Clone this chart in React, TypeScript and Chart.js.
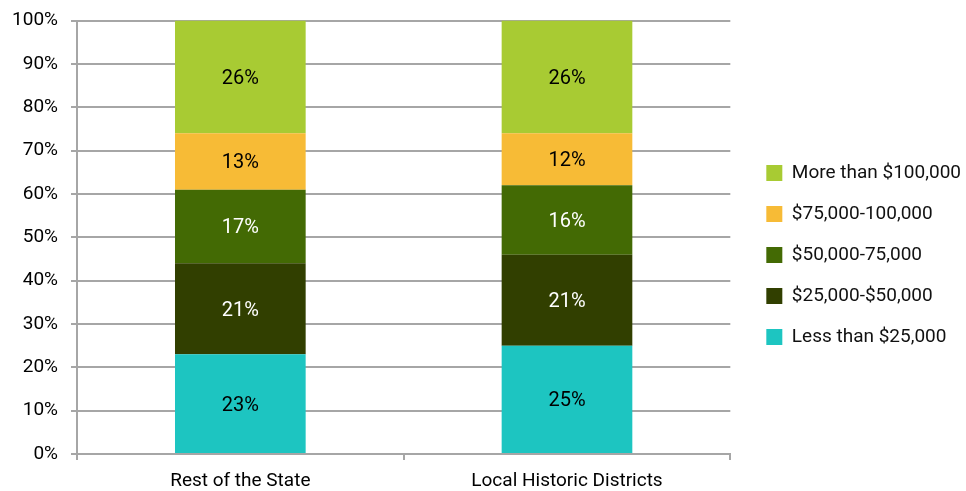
import React, { useEffect, useRef } from "react";
import { Chart, registerables } from "chart.js";

Chart.register(...registerables);

const categories = ["Rest of the State", "Local Historic Districts"];
const seriesNames = [
  "Less than $25,000",
  "$25,000-$50,000",
  "$50,000-75,000",
  "$75,000-100,000",
  "More than $100,000",
];
const lessThan25k = [23, 25];
const from25kTo50k = [21, 21];
const from50kTo75k = [17, 16];
const from75kTo100k = [13, 12];
const moreThan100k = [26, 26];
const yTickValues = [0, 10, 20, 30, 40, 50, 60, 70, 80, 90, 100];

const seriesValues = [lessThan25k, from25kTo50k, from50kTo75k, from75kTo100k, moreThan100k];
const seriesColors = ["#1DC5C1", "#313F00", "#436A04", "#F7BB36", "#A8CB33"];
const labelColors = ["#000000", "#ffffff", "#ffffff", "#000000", "#000000"];

const FONT = "Roboto, 'Open Sans', sans-serif";
const GRID = "#a6a6a6";

const dataLabelPlugin = {
  id: "segmentLabels",
  afterDatasetsDraw(chart: any) {
    const ctx = chart.ctx;
    ctx.save();
    ctx.font = `20px ${FONT}`;
    ctx.textAlign = "center";
    ctx.textBaseline = "middle";
    chart.data.datasets.forEach((ds: any, i: number) => {
      const meta = chart.getDatasetMeta(i);
      meta.data.forEach((bar: any, j: number) => {
        const { x, y, base } = bar.getProps(["x", "y", "base"], true);
        ctx.fillStyle = labelColors[i];
        ctx.fillText(`${ds.data[j]}%`, x, (y + base) / 2 + 2);
      });
    });
    ctx.restore();
  },
};

export default function App() {
  const canvasRef = useRef<HTMLCanvasElement | null>(null);

  useEffect(() => {
    document.body.style.margin = "0";
    const canvas = canvasRef.current;
    if (!canvas) return;
    const chart = new Chart(canvas, {
      type: "bar",
      data: {
        labels: categories,
        datasets: seriesValues.map((vals, i) => ({
          label: seriesNames[i],
          data: vals,
          backgroundColor: seriesColors[i],
          borderWidth: 0,
          barPercentage: 0.4,
          categoryPercentage: 1,
          yAxisID: "y",
        })),
      },
      options: {
        responsive: false,
        animation: false,
        devicePixelRatio: 1,
        layout: { padding: { left: 12, right: -5, top: 19, bottom: 0 } },
        plugins: {
          tooltip: { enabled: false },
          legend: {
            position: "right",
            reverse: true,
            labels: {
              boxWidth: 16,
              boxHeight: 16,
              padding: 22,
              color: "#111111",
              font: { family: FONT, size: 19 },
            },
          },
        },
        scales: {
          x: {
            stacked: true,
            afterFit: (scale: any) => {
              scale.height = 37;
            },
            grid: {
              display: true,
              drawOnChartArea: false,
              drawTicks: true,
              tickLength: 6,
              color: GRID,
              lineWidth: 2,
            },
            border: { display: true, color: GRID, width: 2 },
            ticks: {
              color: "#000000",
              padding: 10,
              font: { family: FONT, size: 19 },
            },
          },
          y: {
            stacked: true,
            min: 0,
            max: 100,
            afterBuildTicks: (scale: any) => {
              scale.ticks = yTickValues.map((v) => ({ value: v }));
            },
            afterFit: (scale: any) => {
              scale.width = 65;
            },
            grid: {
              color: GRID,
              lineWidth: 2,
              tickLength: 6,
            },
            border: { display: true, color: GRID, width: 2 },
            ticks: {
              color: "#000000",
              padding: 13,
              font: { family: FONT, size: 19, lineHeight: 0.8 },
              callback: (v: any) => `${v}%`,
            },
          },
          gap: {
            type: "linear",
            position: "right",
            display: false,
            afterFit: (scale: any) => {
              scale.width = 14;
            },
          },
        },
      },
      plugins: [dataLabelPlugin],
    });
    return () => chart.destroy();
  }, []);

  return (
    <div style={{ position: "absolute", left: 0, top: 0, width: 966, height: 491 }}>
      <canvas ref={canvasRef} width={966} height={491} style={{ width: 966, height: 491 }} />
    </div>
  );
}
